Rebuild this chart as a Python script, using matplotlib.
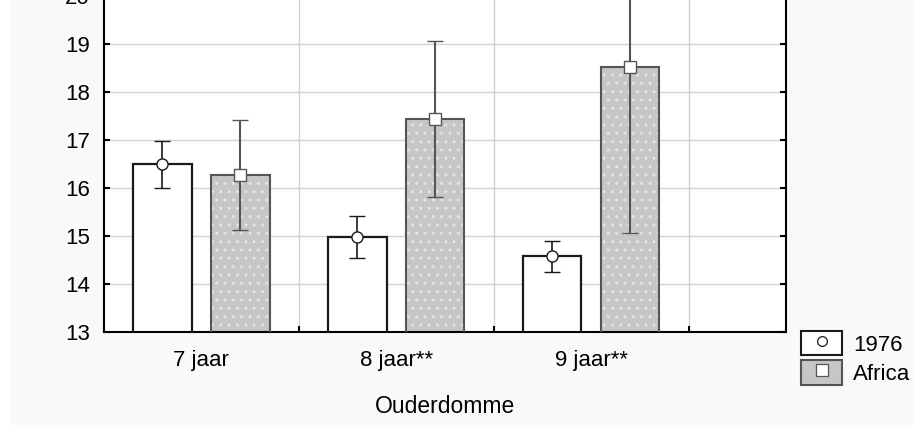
import matplotlib
matplotlib.use("Agg")
import matplotlib.pyplot as plt
from matplotlib.patches import Rectangle, Patch
from matplotlib.lines import Line2D
import numpy as np

plt.rcParams["font.family"] = ["Liberation Sans", "DejaVu Sans"]

# data
groups = ["7 jaar", "8 jaar**", "9 jaar**"]
mean_1976 = [16.49, 14.98, 14.58]
err_1976 = [0.49, 0.43, 0.32]
mean_africa = [16.27, 17.44, 18.52]
err_africa = [1.14, 1.63, 3.46]
series_names = ["1976", "Africa"]

bg = "#f9f9f9"
dark = "#1a1a1a"
mid = "#555555"
fill = "#c6c6c6"

fig = plt.figure(figsize=(9.13, 4.25), dpi=100, facecolor=bg)
fig.patches.append(Rectangle((0, 0), 10 / 913, 1, transform=fig.transFigure,
                             facecolor="white", edgecolor="none", zorder=0))

ax = fig.add_axes([104 / 913, 93 / 425, 682 / 913, 360 / 425])
ax.set_facecolor("white")

x = np.arange(len(groups))
w = 0.3
off = 0.2

# 1976 bars
ax.bar(x - off, mean_1976, width=w, facecolor="white", edgecolor=dark,
       linewidth=1.6, zorder=2)
ax.errorbar(x - off, mean_1976, yerr=err_1976, fmt="o", color=dark,
            ecolor=dark, elinewidth=1.2, capsize=5.8, capthick=1.5,
            markersize=8, markerfacecolor="white", markeredgecolor=dark,
            markeredgewidth=1.0, zorder=4)

# Africa bars: textured fill, then outline
ax.bar(x + off, mean_africa, width=w, facecolor=fill, edgecolor="#e4e4e4",
       hatch="..", linewidth=0, zorder=2)
ax.bar(x + off, mean_africa, width=w, facecolor="none", edgecolor=mid,
       linewidth=1.5, zorder=3)
ax.errorbar(x + off, mean_africa, yerr=err_africa, fmt="s", color=mid,
            ecolor=mid, elinewidth=1.5, capsize=5.8, capthick=1.5,
            markersize=8, markerfacecolor="white", markeredgecolor=mid,
            markeredgewidth=1.0, zorder=4)

ax.set_xlim(-0.5, 3.0)
ax.set_ylim(13, 20.5)
ax.set_yticks(np.arange(13, 21))
ax.set_xticks(x)
ax.set_xticklabels(groups)
ax.set_xticks([0.5, 1.5, 2.5], minor=True)

ax.grid(True, axis="y", color="#d2d2d2", linewidth=1.0, zorder=0)
ax.grid(True, axis="x", which="minor", color="#d2d2d2", linewidth=1.0, zorder=0)
ax.set_axisbelow(True)

ax.tick_params(axis="y", direction="in", length=4, width=1.5, labelsize=16,
               pad=10, right=True, colors="black")
ax.tick_params(axis="x", which="major", length=0, labelsize=16, pad=13)
ax.tick_params(axis="x", which="minor", direction="in", length=4, width=1.5)

for side in ["left", "bottom", "right"]:
    ax.spines[side].set_linewidth(1.5)
    ax.spines[side].set_color("black")
ax.spines["top"].set_visible(False)

ax.set_xlabel("Ouderdomme", fontsize=16.5, labelpad=17)

# legend with marker inside the patch
h1 = (Patch(facecolor="white", edgecolor=dark, linewidth=1.5),
      Line2D([], [], marker="o", linestyle="none", markersize=7,
             markerfacecolor="white", markeredgecolor=dark, markeredgewidth=0.9))
h2 = (Patch(facecolor=fill, edgecolor=mid, linewidth=1.5),
      Line2D([], [], marker="s", linestyle="none", markersize=8,
             markerfacecolor="white", markeredgecolor=mid, markeredgewidth=0.9))
fig.legend([h1, h2], series_names, loc="upper left",
           bbox_to_anchor=(801 / 913, 1 - 331 / 425), frameon=False,
           fontsize=16, handlelength=1.85, handleheight=1.3,
           handletextpad=0.5, labelspacing=0.22, borderpad=0,
           borderaxespad=0)

fig.savefig("out.png", dpi=100, facecolor=bg)
